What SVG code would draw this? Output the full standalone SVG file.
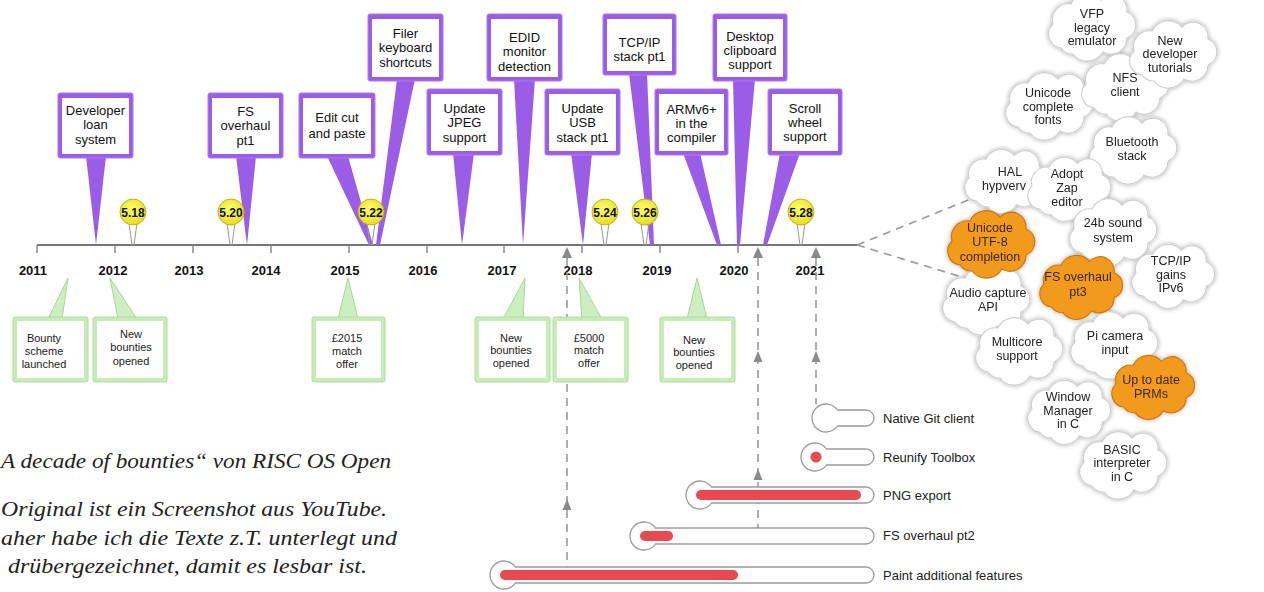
<svg xmlns="http://www.w3.org/2000/svg" width="1264" height="592" viewBox="0 0 1264 592">
<defs>
<style>
text{font-family:"Liberation Sans",Arial,sans-serif;}
.pt{font-size:13px;fill:#111;text-anchor:middle}
.gt{font-size:11px;fill:#222;text-anchor:middle}
.yr{font-size:13px;font-weight:bold;fill:#111;text-anchor:middle}
.vt{font-size:12px;font-weight:bold;fill:#111;text-anchor:middle}
.ct{font-size:12.5px;fill:#222;text-anchor:middle}
.cto{font-size:12.5px;fill:#3a2608;text-anchor:middle}
.th{font-size:13px;fill:#222}
.de{font-family:"Liberation Serif","DejaVu Serif",serif;font-style:italic;font-size:22px;fill:#222}
.pb{fill:#9b5de5;stroke:#ad7bee;stroke-width:1}
.pi{fill:#fff}
.pp{fill:#9b5de5}
.gb{fill:#c8ecb8;stroke:#b0dc9e;stroke-width:1}
.gp{fill:#cdeec0;stroke:#a9d896;stroke-width:1}
.ball{fill:url(#yg);stroke:#bdb224;stroke-width:1}
.leg{stroke:#999;stroke-width:1;fill:none}
.dash{stroke:#9a9a9a;stroke-width:1.6;stroke-dasharray:8 6;fill:none}
.tri{fill:#8a8a8a}
.axis{stroke:#777;stroke-width:2;fill:none}
.tick{stroke:#888;stroke-width:1.5}
.cw{fill:#fff;stroke:#cfcfcf;stroke-width:1.2}
.co{fill:#f29a1e;stroke:#c9780f;stroke-width:1.2}
.tube{fill:#fff;stroke:#9a9a9a;stroke-width:1.3}
.red{fill:#e84a52}
</style>
<radialGradient id="yg" cx="0.45" cy="0.4" r="0.6"><stop offset="0" stop-color="#ffff70"/><stop offset="1" stop-color="#e6dc22"/></radialGradient>
<filter id="halo" x="-20%" y="-20%" width="140%" height="140%"><feGaussianBlur in="SourceAlpha" stdDeviation="2.6" result="b"/><feComponentTransfer in="b" result="c"><feFuncA type="linear" slope="0.35"/></feComponentTransfer><feMerge><feMergeNode in="c"/><feMergeNode in="SourceGraphic"/></feMerge></filter>
<path id="cloud" d="M -30,20 a 14,14 0 0 1 -8,-24 a 16,16 0 0 1 18,-20 a 18,18 0 0 1 30,-4 a 15,15 0 0 1 26,12 a 14,14 0 0 1 0,26 a 16,16 0 0 1 -24,14 a 18,18 0 0 1 -30,2 a 14,14 0 0 1 -12,-6 z"/>
</defs>
<rect width="1264" height="592" fill="#fff"/>

<!-- timeline axis -->
<g id="timeline">
<line class="axis" x1="37" y1="245" x2="857" y2="245"/>
<g class="tick">
<line x1="37" y1="245" x2="37" y2="253"/><line x1="115" y1="245" x2="115" y2="253"/><line x1="193" y1="245" x2="193" y2="253"/><line x1="271" y1="245" x2="271" y2="253"/><line x1="349" y1="245" x2="349" y2="253"/><line x1="427" y1="245" x2="427" y2="253"/><line x1="504" y1="245" x2="504" y2="253"/><line x1="582" y1="245" x2="582" y2="253"/><line x1="660" y1="245" x2="660" y2="253"/><line x1="738" y1="245" x2="738" y2="253"/>
</g>
<text class="yr" x="33" y="275">2011</text><text class="yr" x="113" y="275">2012</text><text class="yr" x="189" y="275">2013</text><text class="yr" x="266" y="275">2014</text><text class="yr" x="345" y="275">2015</text><text class="yr" x="423" y="275">2016</text><text class="yr" x="502" y="275">2017</text><text class="yr" x="578" y="275">2018</text><text class="yr" x="657" y="275">2019</text><text class="yr" x="734" y="275">2020</text><text class="yr" x="810" y="275">2021</text>
</g>

<!-- connectors -->
<g id="connectors">
<line class="dash" x1="857" y1="245" x2="976" y2="197"/>
<line class="dash" x1="857" y1="245" x2="965" y2="278"/>
<line class="dash" x1="567" y1="258" x2="567" y2="567"/>
<line class="dash" x1="758" y1="258" x2="758" y2="528"/>
<line class="dash" x1="816" y1="258" x2="816" y2="404"/>
<polygon class="tri" points="567,247 562,258 572,258"/>
<polygon class="tri" points="758,247 753,258 763,258"/>
<polygon class="tri" points="816,247 811,258 821,258"/>
<polygon class="tri" points="567,499 562.5,510 571.5,510"/>
<polygon class="tri" points="758,351 753.5,362 762.5,362"/>
<polygon class="tri" points="758,469 753.5,480 762.5,480"/>
<polygon class="tri" points="816,351 811.5,362 820.5,362"/>
</g>

<!-- purple callouts -->
<g id="c-developer"><polygon class="pp" points="86,156 106,156 96,245"/><rect class="pb" x="58" y="93" width="75" height="65" rx="2"/><rect class="pi" x="62" y="98" width="67" height="56"/><text class="pt"><tspan x="95.5" y="114.5">Developer</tspan><tspan x="95.5" y="128.5">loan</tspan><tspan x="95.5" y="143.5">system</tspan></text></g>
<g id="c-fs1"><polygon class="pp" points="236,156 256,156 247,245"/><rect class="pb" x="208" y="93" width="75" height="65" rx="2"/><rect class="pi" x="212" y="98" width="67" height="56"/><text class="pt"><tspan x="245.5" y="115.5">FS</tspan><tspan x="245.5" y="129.5">overhaul</tspan><tspan x="245.5" y="144.5">pt1</tspan></text></g>
<g id="c-edit"><polygon class="pp" points="327,156 348,156 373,245 369,245"/><rect class="pb" x="299" y="93" width="76" height="65" rx="2"/><rect class="pi" x="303" y="98" width="68" height="56"/><text class="pt"><tspan x="337" y="121.5">Edit cut</tspan><tspan x="337" y="137.5">and paste</tspan></text></g>
<g id="c-filer"><polygon class="pp" points="397,79 415,79 380,245 376,245"/><rect class="pb" x="368" y="14" width="75" height="67" rx="2"/><rect class="pi" x="372" y="19" width="67" height="58"/><text class="pt"><tspan x="405.5" y="37.5">Filer</tspan><tspan x="405.5" y="52">keyboard</tspan><tspan x="405.5" y="66.5">shortcuts</tspan></text></g>
<g id="c-jpeg"><polygon class="pp" points="453,153 474,153 462,245"/><rect class="pb" x="427" y="89" width="75" height="66" rx="2"/><rect class="pi" x="431" y="94" width="67" height="57"/><text class="pt"><tspan x="464.5" y="112.5">Update</tspan><tspan x="464.5" y="127">JPEG</tspan><tspan x="464.5" y="141.5">support</tspan></text></g>
<g id="c-edid"><polygon class="pp" points="514,79 535,79 523,245"/><rect class="pb" x="487" y="14" width="75" height="67" rx="2"/><rect class="pi" x="491" y="19" width="67" height="58"/><text class="pt"><tspan x="524.5" y="41.5">EDID</tspan><tspan x="524.5" y="56">monitor</tspan><tspan x="524.5" y="70.5">detection</tspan></text></g>
<g id="c-usb"><polygon class="pp" points="571,153 592,153 583,245"/><rect class="pb" x="545" y="89" width="75" height="66" rx="2"/><rect class="pi" x="549" y="94" width="67" height="57"/><text class="pt"><tspan x="582.5" y="112.5">Update</tspan><tspan x="582.5" y="127">USB</tspan><tspan x="582.5" y="141.5">stack pt1</tspan></text></g>
<g id="c-tcp"><polygon class="pp" points="629,73 647,73 654,245 650,245"/><rect class="pb" x="603" y="14" width="73" height="61" rx="2"/><rect class="pi" x="607" y="19" width="65" height="52"/><text class="pt"><tspan x="639.5" y="46.5">TCP/IP</tspan><tspan x="639.5" y="60.5">stack pt1</tspan></text></g>
<g id="c-arm"><polygon class="pp" points="683,153 700,153 721,245 717,245"/><rect class="pb" x="655" y="89" width="73" height="66" rx="2"/><rect class="pi" x="659" y="94" width="65" height="57"/><text class="pt"><tspan x="691.5" y="113.5">ARMv6+</tspan><tspan x="691.5" y="127.5">in the</tspan><tspan x="691.5" y="141.5">compiler</tspan></text></g>
<g id="c-desktop"><polygon class="pp" points="733,79 755,79 740,245 737,245"/><rect class="pb" x="713" y="14" width="74" height="67" rx="2"/><rect class="pi" x="717" y="19" width="66" height="58"/><text class="pt"><tspan x="750" y="40.5">Desktop</tspan><tspan x="750" y="54.5">clipboard</tspan><tspan x="750" y="68.5">support</tspan></text></g>
<g id="c-scroll"><polygon class="pp" points="780,153 800,153 767,245 763,245"/><rect class="pb" x="768" y="89" width="74" height="66" rx="2"/><rect class="pi" x="772" y="94" width="66" height="57"/><text class="pt"><tspan x="805" y="112.5">Scroll</tspan><tspan x="805" y="126.5">wheel</tspan><tspan x="805" y="140.5">support</tspan></text></g>

<!-- version balls -->
<g id="v518"><path class="leg" d="M129,223 L132,245 M137,223 L134,245"/><circle class="ball" cx="133" cy="212" r="13"/><text class="vt" x="133" y="216.5">5.18</text></g>
<g id="v520"><path class="leg" d="M227,223 L230,245 M235,223 L232,245"/><circle class="ball" cx="231" cy="212" r="13"/><text class="vt" x="231" y="216.5">5.20</text></g>
<g id="v522"><path class="leg" d="M367,223 L370,245 M375,223 L372,245"/><circle class="ball" cx="371" cy="212" r="13"/><text class="vt" x="371" y="216.5">5.22</text></g>
<g id="v524"><path class="leg" d="M601,223 L604,245 M609,223 L606,245"/><circle class="ball" cx="605" cy="212" r="13"/><text class="vt" x="605" y="216.5">5.24</text></g>
<g id="v526"><path class="leg" d="M641,223 L644,245 M649,223 L646,245"/><circle class="ball" cx="645" cy="212" r="13"/><text class="vt" x="645" y="216.5">5.26</text></g>
<g id="v528"><path class="leg" d="M797,223 L800,245 M805,223 L802,245"/><circle class="ball" cx="801" cy="212" r="13"/><text class="vt" x="801" y="216.5">5.28</text></g>

<!-- green callouts -->
<g id="g-bounty"><polygon class="gp" points="68,278 48,319 62,319"/><rect class="gb" x="13" y="317" width="75" height="65" rx="2"/><rect class="pi" x="17" y="321" width="67" height="57"/><text class="gt"><tspan x="44" y="342">Bounty</tspan><tspan x="44" y="355">scheme</tspan><tspan x="44" y="368">launched</tspan></text></g>
<g id="g-new2012"><polygon class="gp" points="110,278 118,319 137,319"/><rect class="gb" x="93" y="317" width="74" height="65" rx="2"/><rect class="pi" x="97" y="321" width="66" height="57"/><text class="gt"><tspan x="131" y="338">New</tspan><tspan x="131" y="351">bounties</tspan><tspan x="131" y="365">opened</tspan></text></g>
<g id="g-2015"><polygon class="gp" points="348,278 338,319 358,319"/><rect class="gb" x="312" y="317" width="73" height="65" rx="2"/><rect class="pi" x="316" y="321" width="65" height="57"/><text class="gt"><tspan x="347" y="342">£2015</tspan><tspan x="347" y="355">match</tspan><tspan x="347" y="368">offer</tspan></text></g>
<g id="g-new2017"><polygon class="gp" points="525,278 503,319 523,319"/><rect class="gb" x="475" y="317" width="75" height="65" rx="2"/><rect class="pi" x="479" y="321" width="67" height="57"/><text class="gt"><tspan x="511" y="342">New</tspan><tspan x="511" y="354">bounties</tspan><tspan x="511" y="367">opened</tspan></text></g>
<g id="g-5000"><polygon class="gp" points="579,278 582,319 602,319"/><rect class="gb" x="553" y="317" width="75" height="65" rx="2"/><rect class="pi" x="557" y="321" width="67" height="57"/><text class="gt"><tspan x="589" y="342">£5000</tspan><tspan x="589" y="354">match</tspan><tspan x="589" y="367">offer</tspan></text></g>
<g id="g-new2019"><polygon class="gp" points="697,278 687,319 707,319"/><rect class="gb" x="660" y="317" width="75" height="65" rx="2"/><rect class="pi" x="664" y="321" width="67" height="57"/><text class="gt"><tspan x="694" y="344">New</tspan><tspan x="694" y="356">bounties</tspan><tspan x="694" y="369">opened</tspan></text></g>

<!-- thermometers -->
<g id="t-git"><path class="tube" d="M837.5 410 H866 A8 8 0 0 1 866 426 H837.5 A14 14 0 1 1 837.5 410 Z"/><text class="th" x="883" y="423">Native Git client</text></g>
<g id="t-reunify"><path class="tube" d="M826.5 449 H866 A8 8 0 0 1 866 465 H826.5 A14 14 0 1 1 826.5 449 Z"/><circle class="red" cx="816" cy="457" r="5.5"/><text class="th" x="883" y="462">Reunify Toolbox</text></g>
<g id="t-png"><path class="tube" d="M711.5 487 H866 A8 8 0 0 1 866 503 H711.5 A14 14 0 1 1 711.5 487 Z"/><rect class="red" x="696" y="490" width="165" height="10" rx="5"/><text class="th" x="883" y="500">PNG export</text></g>
<g id="t-fs2"><path class="tube" d="M655.5 528 H866 A8 8 0 0 1 866 544 H655.5 A14 14 0 1 1 655.5 528 Z"/><rect class="red" x="640" y="531" width="33" height="10" rx="5"/><text class="th" x="883" y="540">FS overhaul pt2</text></g>
<g id="t-paint"><path class="tube" d="M515.5 567 H866 A8 8 0 0 1 866 583 H515.5 A14 14 0 1 1 515.5 567 Z"/><rect class="red" x="500" y="570" width="238" height="10" rx="5"/><text class="th" x="883" y="580">Paint additional features</text></g>

<!-- clouds -->
<g filter="url(#halo)">
<g id="k-unifonts"><use href="#cloud" class="cw" transform="translate(1048,107)"/><text class="ct"><tspan x="1048" y="97">Unicode</tspan><tspan x="1048" y="111">complete</tspan><tspan x="1048" y="124">fonts</tspan></text></g>
<g id="k-nfs"><use href="#cloud" class="cw" transform="translate(1124,88)"/><text class="ct"><tspan x="1125" y="82">NFS</tspan><tspan x="1125" y="96">client</tspan></text></g>
<g id="k-vfp"><use href="#cloud" class="cw" transform="translate(1091,28)"/><text class="ct"><tspan x="1092" y="17.5">VFP</tspan><tspan x="1092" y="31.5">legacy</tspan><tspan x="1092" y="44.5">emulator</tspan></text></g>
<g id="k-newdev"><use href="#cloud" class="cw" transform="translate(1172,55)"/><text class="ct"><tspan x="1170" y="44.5">New</tspan><tspan x="1170" y="58">developer</tspan><tspan x="1170" y="72">tutorials</tspan></text></g>
<g id="k-bt"><use href="#cloud" class="cw" transform="translate(1132,151)"/><text class="ct"><tspan x="1132" y="146">Bluetooth</tspan><tspan x="1132" y="160">stack</tspan></text></g>
<g id="k-hal"><use href="#cloud" class="cw" transform="translate(1005,182) scale(0.95)"/><text class="ct"><tspan x="1010" y="176">HAL</tspan><tspan x="1004" y="190">hypverv</tspan></text></g>
<g id="k-zap"><use href="#cloud" class="cw" transform="translate(1068,190) scale(0.95)"/><text class="ct"><tspan x="1067" y="178">Adopt</tspan><tspan x="1067" y="192">Zap</tspan><tspan x="1067" y="206">editor</tspan></text></g>
<g id="k-sound"><use href="#cloud" class="cw" transform="translate(1112,233)"/><text class="ct"><tspan x="1113" y="227">24b sound</tspan><tspan x="1113" y="242">system</tspan></text></g>
<g id="k-tcp"><use href="#cloud" class="cw" transform="translate(1172,277) scale(0.95)"/><text class="ct"><tspan x="1171" y="265">TCP/IP</tspan><tspan x="1171" y="279">gains</tspan><tspan x="1171" y="292">IPv6</tspan></text></g>
<g id="k-audio"><use href="#cloud" class="cw" transform="translate(985,302)"/><text class="ct"><tspan x="988" y="297">Audio capture</tspan><tspan x="988" y="311">API</tspan></text></g>
<g id="k-multi"><use href="#cloud" class="cw" transform="translate(1018,352)"/><text class="ct"><tspan x="1017" y="346">Multicore</tspan><tspan x="1017" y="360">support</tspan></text></g>
<g id="k-picam"><use href="#cloud" class="cw" transform="translate(1113,346)"/><text class="ct"><tspan x="1115" y="340">Pi camera</tspan><tspan x="1115" y="354">input</tspan></text></g>
<g id="k-wm"><use href="#cloud" class="cw" transform="translate(1068,413) scale(0.95)"/><text class="ct"><tspan x="1068" y="401">Window</tspan><tspan x="1068" y="415">Manager</tspan><tspan x="1068" y="428">in C</tspan></text></g>
<g id="k-basic"><use href="#cloud" class="cw" transform="translate(1122,466)"/><text class="ct"><tspan x="1122" y="454">BASIC</tspan><tspan x="1122" y="467">interpreter</tspan><tspan x="1122" y="481">in C</tspan></text></g>
<g id="k-utf8"><use href="#cloud" class="co" transform="translate(990,245)"/><text class="cto"><tspan x="990" y="232">Unicode</tspan><tspan x="990" y="246">UTF-8</tspan><tspan x="990" y="261">completion</tspan></text></g>
<g id="k-fs3"><use href="#cloud" class="co" transform="translate(1080,288) scale(0.95)"/><text class="cto"><tspan x="1078" y="281">FS overhaul</tspan><tspan x="1078" y="296">pt3</tspan></text></g>
<g id="k-prms"><use href="#cloud" class="co" transform="translate(1152,388) scale(0.95)"/><text class="cto"><tspan x="1151" y="384">Up to date</tspan><tspan x="1151" y="398">PRMs</tspan></text></g>
</g>

<!-- caption -->
<g id="caption">
<text class="de" x="1" y="468" textLength="390" lengthAdjust="spacingAndGlyphs">A decade of bounties“ von RISC OS Open</text>
<text class="de" x="1" y="516" textLength="386" lengthAdjust="spacingAndGlyphs">Original ist ein Screenshot aus YouTube.</text>
<text class="de" x="1" y="545" textLength="396" lengthAdjust="spacingAndGlyphs">aher habe ich die Texte z.T. unterlegt und</text>
<text class="de" x="8" y="573" textLength="359" lengthAdjust="spacingAndGlyphs">drübergezeichnet, damit es lesbar ist.</text>
</g>
</svg>
